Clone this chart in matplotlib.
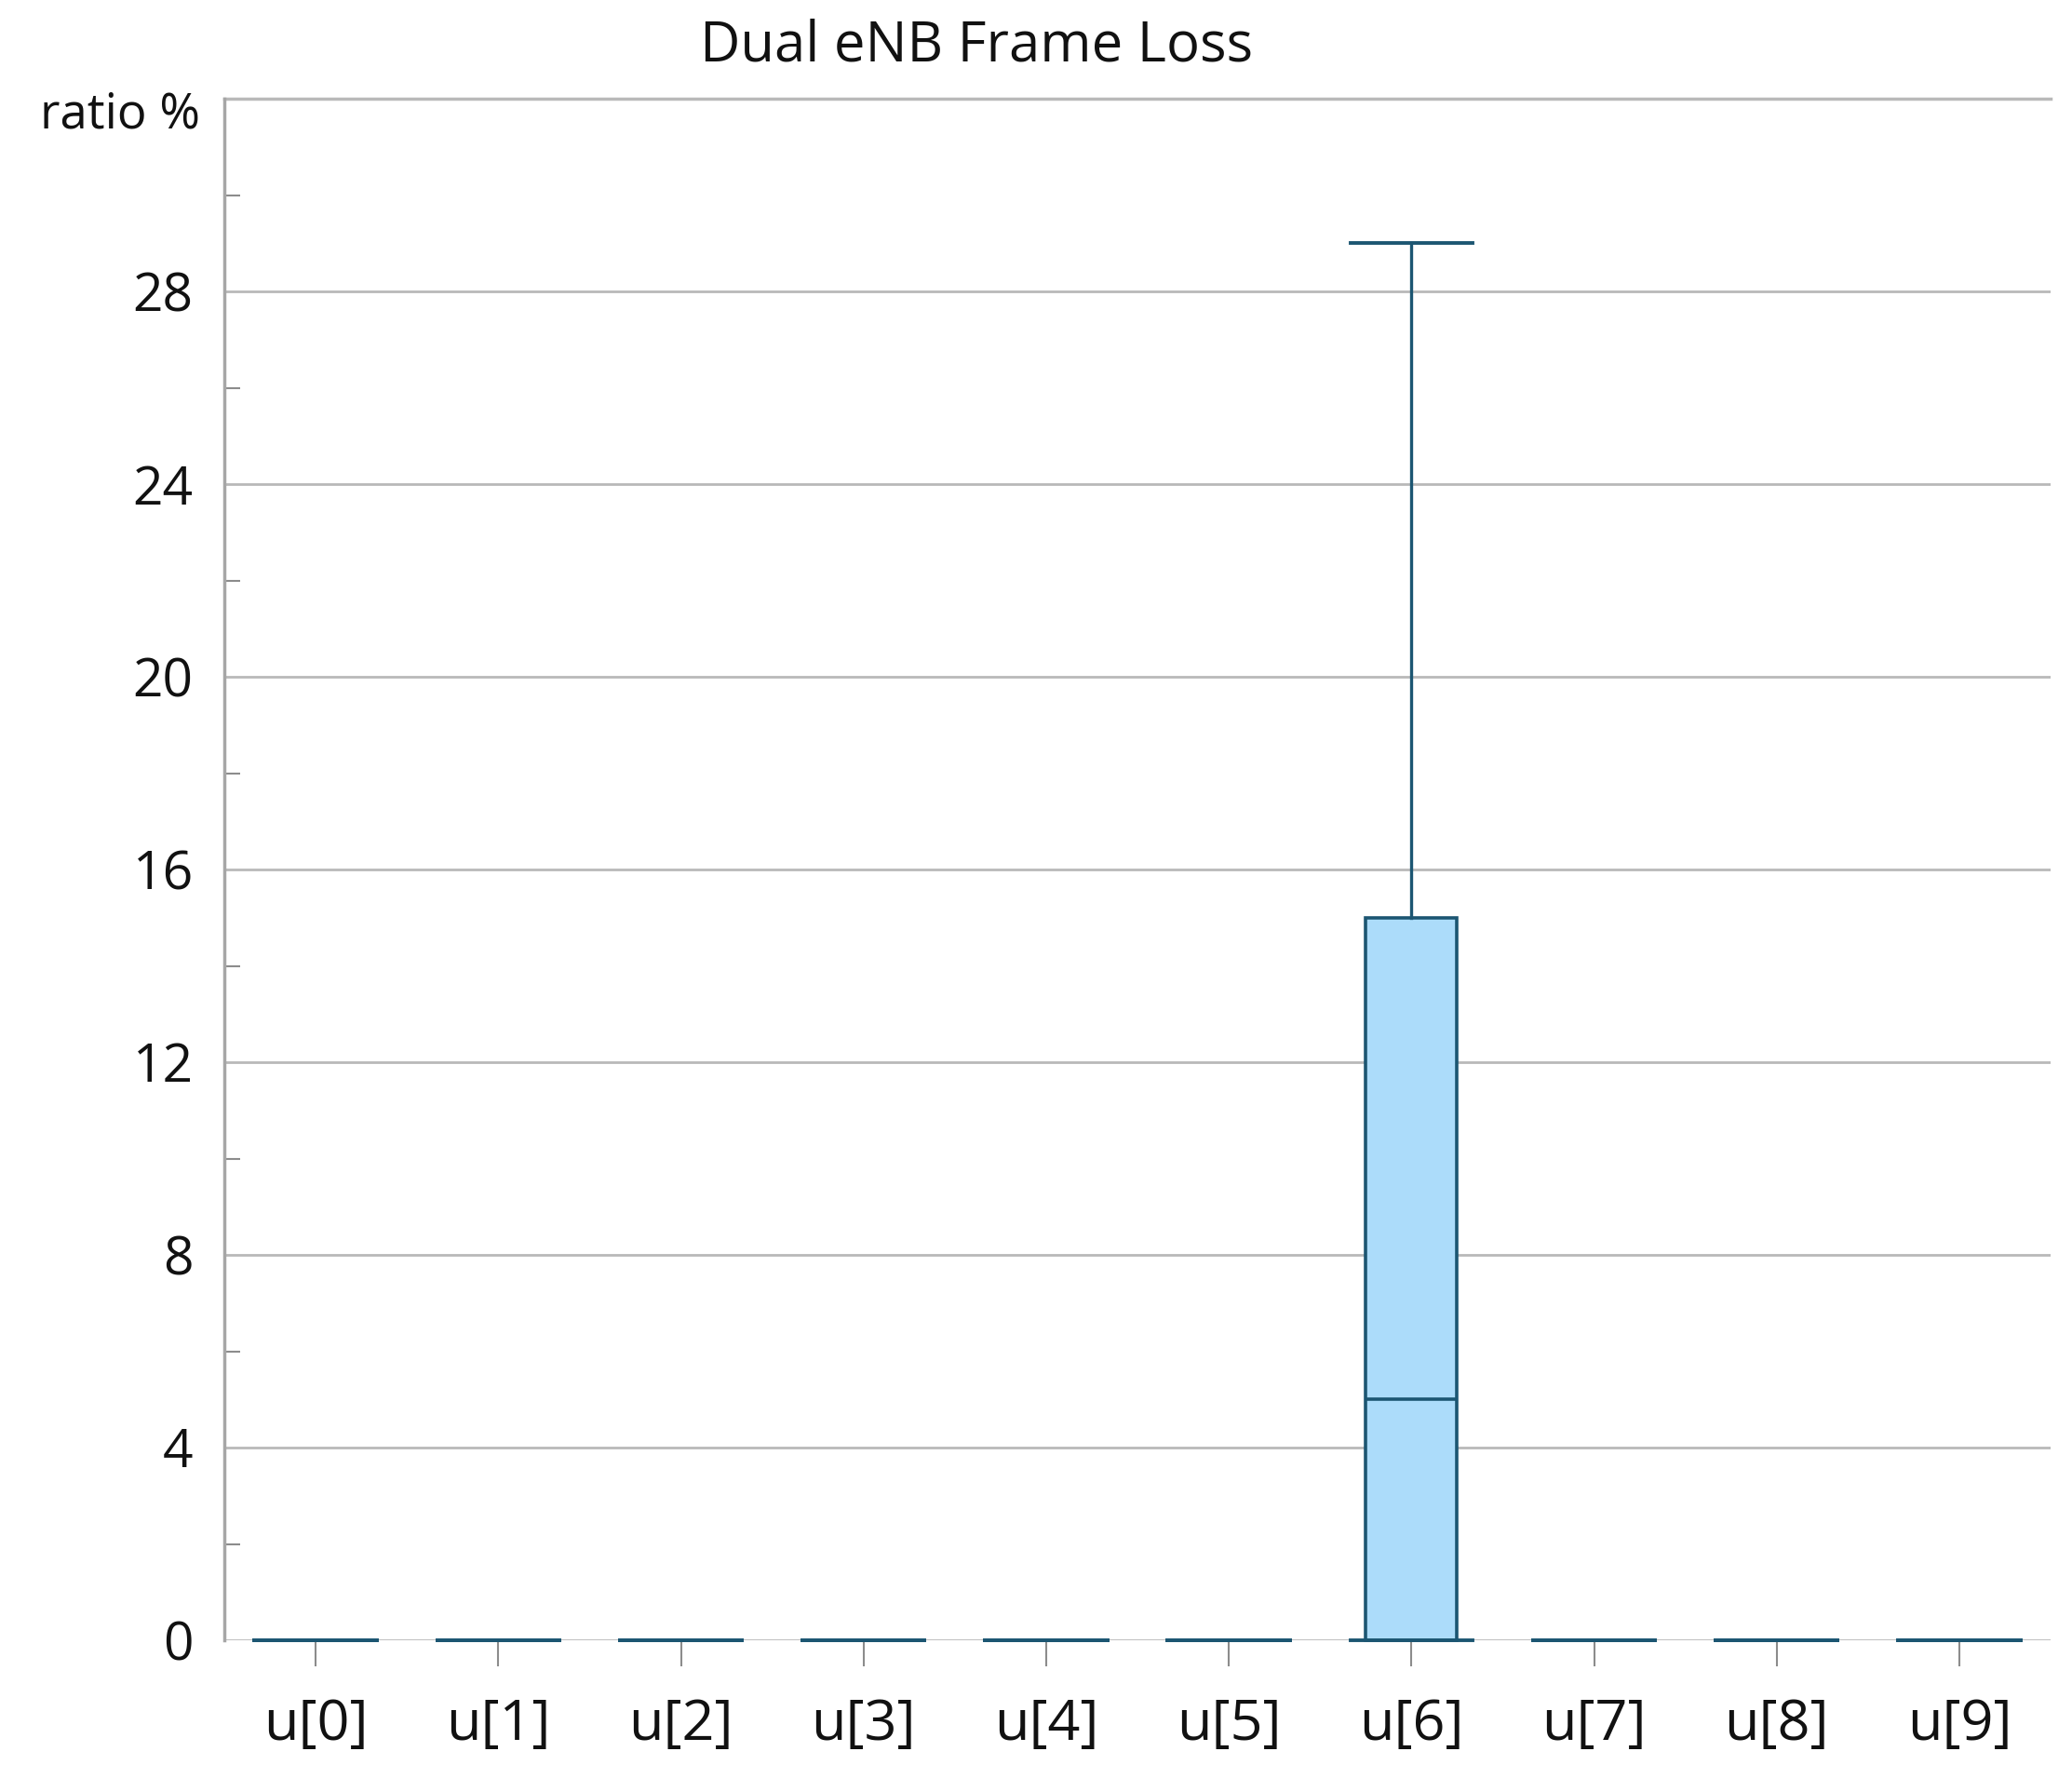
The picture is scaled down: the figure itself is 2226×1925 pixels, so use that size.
import matplotlib.pyplot as plt
import numpy as np

# box stats per category
labels = ['u[0]', 'u[1]', 'u[2]', 'u[3]', 'u[4]', 'u[5]', 'u[6]', 'u[7]', 'u[8]', 'u[9]']
whislo = [0, 0, 0, 0, 0, 0, 0, 0, 0, 0]
q1 = [0, 0, 0, 0, 0, 0, 0, 0, 0, 0]
med = [0, 0, 0, 0, 0, 0, 5, 0, 0, 0]
q3 = [0, 0, 0, 0, 0, 0, 15, 0, 0, 0]
whishi = [0, 0, 0, 0, 0, 0, 29, 0, 0, 0]

edge = '#1c5672'
fill = '#acdcfa'
grid_c = '#b9b9b9'

stats = []
for i in range(len(labels)):
    stats.append({'label': labels[i], 'whislo': whislo[i], 'q1': q1[i],
                  'med': med[i], 'q3': q3[i], 'whishi': whishi[i], 'fliers': []})

fig = plt.figure(figsize=(22.26, 19.25), dpi=100)
ax = fig.add_axes([241/2226, 1-1762/1925, (2203-241)/2226, (1762-106)/1925])

parts = ax.bxp(stats, positions=np.arange(len(labels)), widths=0.5, patch_artist=True,
               showfliers=False,
               boxprops=dict(facecolor=fill, edgecolor=edge, linewidth=2.6),
               medianprops=dict(color=edge, linewidth=2.6),
               whiskerprops=dict(color=edge, linewidth=2.4),
               capprops=dict(color=edge, linewidth=2.8),
               capwidths=0.67, zorder=3)
for key in parts:
    for a in parts[key]:
        a.set_clip_on(False)

ax.set_xlim(-0.5, 9.5)
ax.set_ylim(0, 32)
ax.set_yticks(np.arange(0, 29, 4))
ax.set_yticks(np.arange(2, 32, 4), minor=True)
ax.set_xticks(np.arange(len(labels)))
ax.set_xticklabels(labels, fontfamily='Open Sans', fontsize=44)
for t in ax.get_yticklabels():
    t.set_fontfamily('Open Sans')
    t.set_fontsize(41)

ax.grid(axis='y', which='major', color=grid_c, linewidth=2, zorder=0)
ax.axhline(32, color=grid_c, linewidth=2.5, clip_on=False, zorder=0)
ax.set_axisbelow(True)

for s in ['top', 'right', 'bottom']:
    ax.spines[s].set_visible(False)
ax.spines['left'].set_color('#a6a6a6')
ax.spines['left'].set_linewidth(2.5)

ax.tick_params(axis='y', which='major', length=0, pad=24, labelcolor='#111111')
ax.tick_params(axis='y', which='minor', direction='in', length=12, width=1.5, color='#8c8c8c')
ax.tick_params(axis='x', which='major', length=20, width=1.5, color='#8c8c8c', pad=24,
               labelcolor='#111111')

fig.text(1049/2226, 1-50/1925, 'Dual eNB Frame Loss', ha='center', va='center',
         fontfamily='Open Sans', fontsize=43, color='#111111')
fig.text(129/2226, 1-124/1925, 'ratio %', ha='center', va='center',
         fontfamily='Open Sans', fontsize=38, color='#111111')

fig.savefig('out.png', dpi=100)
